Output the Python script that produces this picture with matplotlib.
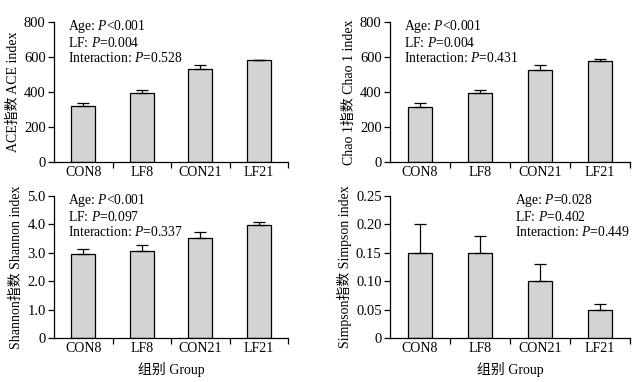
import matplotlib
matplotlib.use("Agg")
import matplotlib.pyplot as plt
import numpy as np

plt.rcParams['font.family'] = ['Liberation Serif', 'Noto Sans CJK SC']
plt.rcParams['mathtext.fontset'] = 'custom'
plt.rcParams['mathtext.rm'] = 'Liberation Serif'
plt.rcParams['mathtext.it'] = 'Liberation Serif:italic'

groups = ["CON8", "LF8", "CON21", "LF21"]
ace_mean = [322, 392, 530, 582]
ace_err = [15, 18, 25, 3]
chao_mean = [312, 392, 527, 578]
chao_err = [25, 18, 25, 10]
shannon_mean = [2.95, 3.07, 3.52, 3.98]
shannon_err = [0.20, 0.20, 0.20, 0.10]
simpson_mean = [0.15, 0.15, 0.10, 0.05]
simpson_err = [0.05, 0.03, 0.03, 0.01]

ace_p = ["Age: $P$<0.001", "LF: $P$=0.004", "Interaction: $P$=0.528"]
chao_p = ["Age: $P$<0.001", "LF: $P$=0.004", "Interaction: $P$=0.431"]
shannon_p = ["Age: $P$<0.001", "LF: $P$=0.097", "Interaction: $P$=0.337"]
simpson_p = ["Age: $P$=0.028", "LF: $P$=0.402", "Interaction: $P$=0.449"]

W, H = 638, 382
fig = plt.figure(figsize=(W / 100, H / 100), dpi=100)

def ax_at(x0, x1, ytop, ybot):
    return fig.add_axes([x0 / W, 1 - ybot / H, (x1 - x0) / W, (ybot - ytop) / H])

panels = [
    (ax_at(54, 288, 22, 162), ace_mean, ace_err, ace_p, "ACE指数 ACE index",
     [0, 200, 400, 600, 800], ["0", "200", "400", "600", "800"], 800, (0.06, 1.03), None),
    (ax_at(390, 630, 22, 162), chao_mean, chao_err, chao_p, "Chao 1指数 Chao 1 index",
     [0, 200, 400, 600, 800], ["0", "200", "400", "600", "800"], 800, (0.06, 1.03), None),
    (ax_at(54, 288, 196, 338), shannon_mean, shannon_err, shannon_p, "Shannon指数 Shannon index",
     [0, 1, 2, 3, 4, 5], ["0", "1.0", "2.0", "3.0", "4.0", "5.0"], 5.0, (0.06, 1.03), "组别 Group"),
    (ax_at(390, 630, 196, 338), simpson_mean, simpson_err, simpson_p, "Simpson指数 Simpson index",
     [0, 0.05, 0.10, 0.15, 0.20, 0.25], ["0", "0.05", "0.10", "0.15", "0.20", "0.25"], 0.25, (0.52, 1.03), "组别 Group"),
]

x = np.arange(len(groups))
for ax, mean, err, ptxt, ylabel, yt, ytl, ymax, tpos, xlabel in panels:
    ax.bar(x, mean, width=0.41, color="#d3d3d3", edgecolor="black", linewidth=0.9,
           yerr=[np.zeros(len(err)), err], capsize=4.5,
           error_kw=dict(ecolor="black", elinewidth=0.9, capthick=0.9))
    ax.set_xlim(-0.5, 3.5)
    ax.set_ylim(0, ymax)
    ax.spines['top'].set_visible(False)
    ax.spines['right'].set_visible(False)
    ax.spines['left'].set_linewidth(0.9)
    ax.spines['bottom'].set_linewidth(0.9)
    ax.set_yticks(yt)
    ax.set_yticklabels(ytl, fontsize=10.5)
    ax.tick_params(axis='y', direction='out', length=4, width=0.9, pad=2)
    ax.set_xticks(x)
    ax.set_xticklabels(groups, fontsize=10)
    ax.tick_params(axis='x', which='major', length=0, pad=3)
    ax.set_xticks([0.5, 1.5, 2.5, 3.5], minor=True)
    ax.tick_params(axis='x', which='minor', direction='out', length=4, width=0.9)
    ax.set_ylabel(ylabel, fontsize=10, labelpad=3)
    if xlabel:
        ax.set_xlabel(xlabel, fontsize=10, labelpad=5)
    ax.text(tpos[0], tpos[1], "\n".join(ptxt), transform=ax.transAxes, fontsize=9.8,
            va='top', ha='left', linespacing=1.08)

fig.savefig("out.png", dpi=100)
